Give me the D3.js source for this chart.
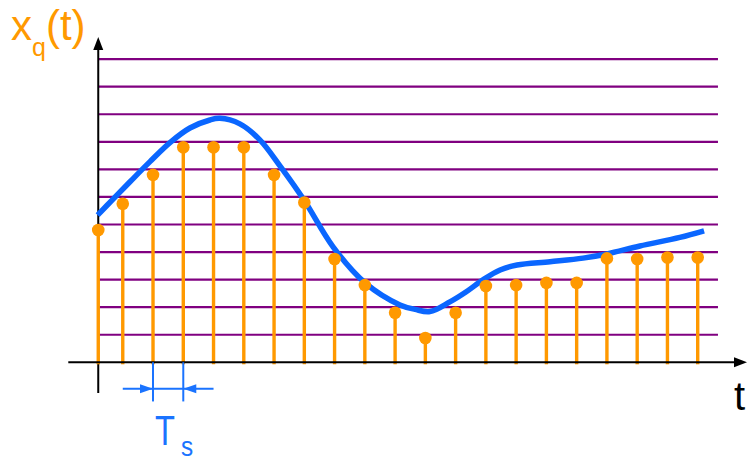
<!DOCTYPE html>
<html>
<head>
<meta charset="utf-8">
<script src="https://cdn.jsdelivr.net/npm/d3@7"></script>
<style>
  html, body { margin: 0; padding: 0; background: #fff; }
  svg { display: block; font-family: "Liberation Sans", Arial, sans-serif; }
</style>
</head>
<body>
<svg id="chart" width="748" height="462"></svg>
<script>
// ---- data ----
// quantization levels (horizontal lines)
const quantLevels = [1, 2, 3, 4, 5, 6, 7, 8, 9, 10, 11];
// sample instants (in units of Ts) and quantized sample values (in level units)
const sampleT = [0.19, 1, 2, 3, 4, 5, 6, 7, 8, 9, 10, 11, 12, 13, 14, 15, 16, 17, 18, 19, 20];
const sampleLevel = [4.8, 5.75, 6.8, 7.8, 7.8, 7.8, 6.8, 5.8, 3.75, 2.8, 1.8, 0.88, 1.8, 2.77, 2.8, 2.88, 2.88, 3.77, 3.75, 3.8, 3.8];
// continuous signal x(t)
const curveT = [0.17, 0.68, 1.24, 1.90, 2.56, 3.22, 3.88, 4.21, 4.87, 5.53, 6.20, 6.99, 7.95, 9.01, 10.16, 10.66, 11.15, 11.81, 12.34, 12.90, 13.47, 14.03, 15.12, 16.21, 17.00, 18.09, 19.41, 20.21];
const curveLevel = [5.34, 5.92, 6.55, 7.28, 7.97, 8.50, 8.79, 8.85, 8.65, 8.07, 7.12, 5.89, 4.19, 2.88, 2.08, 1.92, 1.84, 2.19, 2.55, 2.99, 3.35, 3.53, 3.65, 3.78, 3.93, 4.22, 4.53, 4.77];
// axis extents
const yAxisT = 0.19;
const gridEndT = 20.67;
const xAxisStartT = -0.8, xAxisEndT = 21.63;
const yAxisBottom = -1.11, yAxisTop = 11.8;
// Ts annotation: between samples at t=2 and t=3
const tsFrom = 2, tsTo = 3;
const tsLevel = -0.96, tsTickBottom = -1.42;

// ---- scales ----
const x = d3.scaleLinear().domain([0, 20]).range([92.5, 697.7]);
const y = d3.scaleLinear().domain([0, 11]).range([362.3, 59.1]);

const svg = d3.select("#chart");
const ORANGE = "#ff9900", PURPLE = "#800080", BLUE = "#0a66ff", BLUE2 = "#1a73ff";

// quantization lines
svg.append("g").selectAll("line").data(quantLevels).join("line")
  .attr("x1", x(yAxisT)).attr("x2", x(gridEndT))
  .attr("y1", d => y(d)).attr("y2", d => y(d))
  .attr("stroke", PURPLE).attr("stroke-width", 2.2);

// y axis
svg.append("line")
  .attr("x1", x(yAxisT)).attr("x2", x(yAxisT))
  .attr("y1", y(yAxisBottom)).attr("y2", y(yAxisTop) + 10)
  .attr("stroke", "#000").attr("stroke-width", 2);
svg.append("path")
  .attr("d", `M${x(yAxisT)},${y(yAxisTop)} L${x(yAxisT) - 5},${y(yAxisTop) + 13} L${x(yAxisT) + 5},${y(yAxisTop) + 13} Z`)
  .attr("fill", "#000");

// continuous signal
const line = d3.line().x(d => x(d[0])).y(d => y(d[1])).curve(d3.curveCatmullRom.alpha(0.5));
svg.append("path")
  .datum(curveT.map((t, i) => [t, curveLevel[i]]))
  .attr("d", line)
  .attr("fill", "none").attr("stroke", BLUE).attr("stroke-width", 5.5);

// stems
const samples = sampleT.map((t, i) => ({ t, v: sampleLevel[i] }));
svg.append("g").selectAll("line").data(samples).join("line")
  .attr("x1", d => x(d.t)).attr("x2", d => x(d.t))
  .attr("y1", d => y(d.v)).attr("y2", y(0) + 2)
  .attr("stroke", ORANGE).attr("stroke-width", 3.4);
svg.append("g").selectAll("circle").data(samples).join("circle")
  .attr("cx", d => x(d.t)).attr("cy", d => y(d.v)).attr("r", 6.3)
  .attr("fill", ORANGE);

// x axis
svg.append("line")
  .attr("x1", x(xAxisStartT)).attr("x2", x(xAxisEndT) - 10)
  .attr("y1", y(0)).attr("y2", y(0))
  .attr("stroke", "#000").attr("stroke-width", 2);
svg.append("path")
  .attr("d", `M${x(xAxisEndT)},${y(0)} L${x(xAxisEndT) - 13},${y(0) - 5} L${x(xAxisEndT) - 13},${y(0) + 5} Z`)
  .attr("fill", "#000");

// Ts annotation
const ts = svg.append("g").attr("stroke", BLUE2).attr("stroke-width", 2);
[tsFrom, tsTo].forEach(t => {
  ts.append("line").attr("x1", x(t)).attr("x2", x(t)).attr("y1", y(0)).attr("y2", y(tsTickBottom));
});
ts.append("line").attr("x1", x(tsFrom - 1)).attr("x2", x(tsTo + 1)).attr("y1", y(tsLevel)).attr("y2", y(tsLevel));
svg.append("path")
  .attr("d", `M${x(tsFrom)},${y(tsLevel)} l-13,-4.5 l0,9 Z M${x(tsTo)},${y(tsLevel)} l13,-4.5 l0,9 Z`)
  .attr("fill", BLUE2);

// Labels
const yl = svg.append("text").attr("x", 11).attr("y", 40).attr("fill", ORANGE).attr("font-size", 42);
yl.append("tspan").text("x");
yl.append("tspan").attr("font-size", 25).attr("dy", 16).text("q");
yl.append("tspan").attr("dy", -16).text("(t)");

svg.append("text").attr("x", 734).attr("y", 410).attr("fill", "#000").attr("font-size", 40).text("t");

const tsl = svg.append("g").attr("fill", BLUE2);
tsl.append("text").attr("transform", "translate(155,445) scale(0.76,1)").attr("font-size", 43).text("T");
tsl.append("text").attr("transform", "translate(181,456) scale(0.9,1)").attr("font-size", 27).text("s");
</script>
</body>
</html>
